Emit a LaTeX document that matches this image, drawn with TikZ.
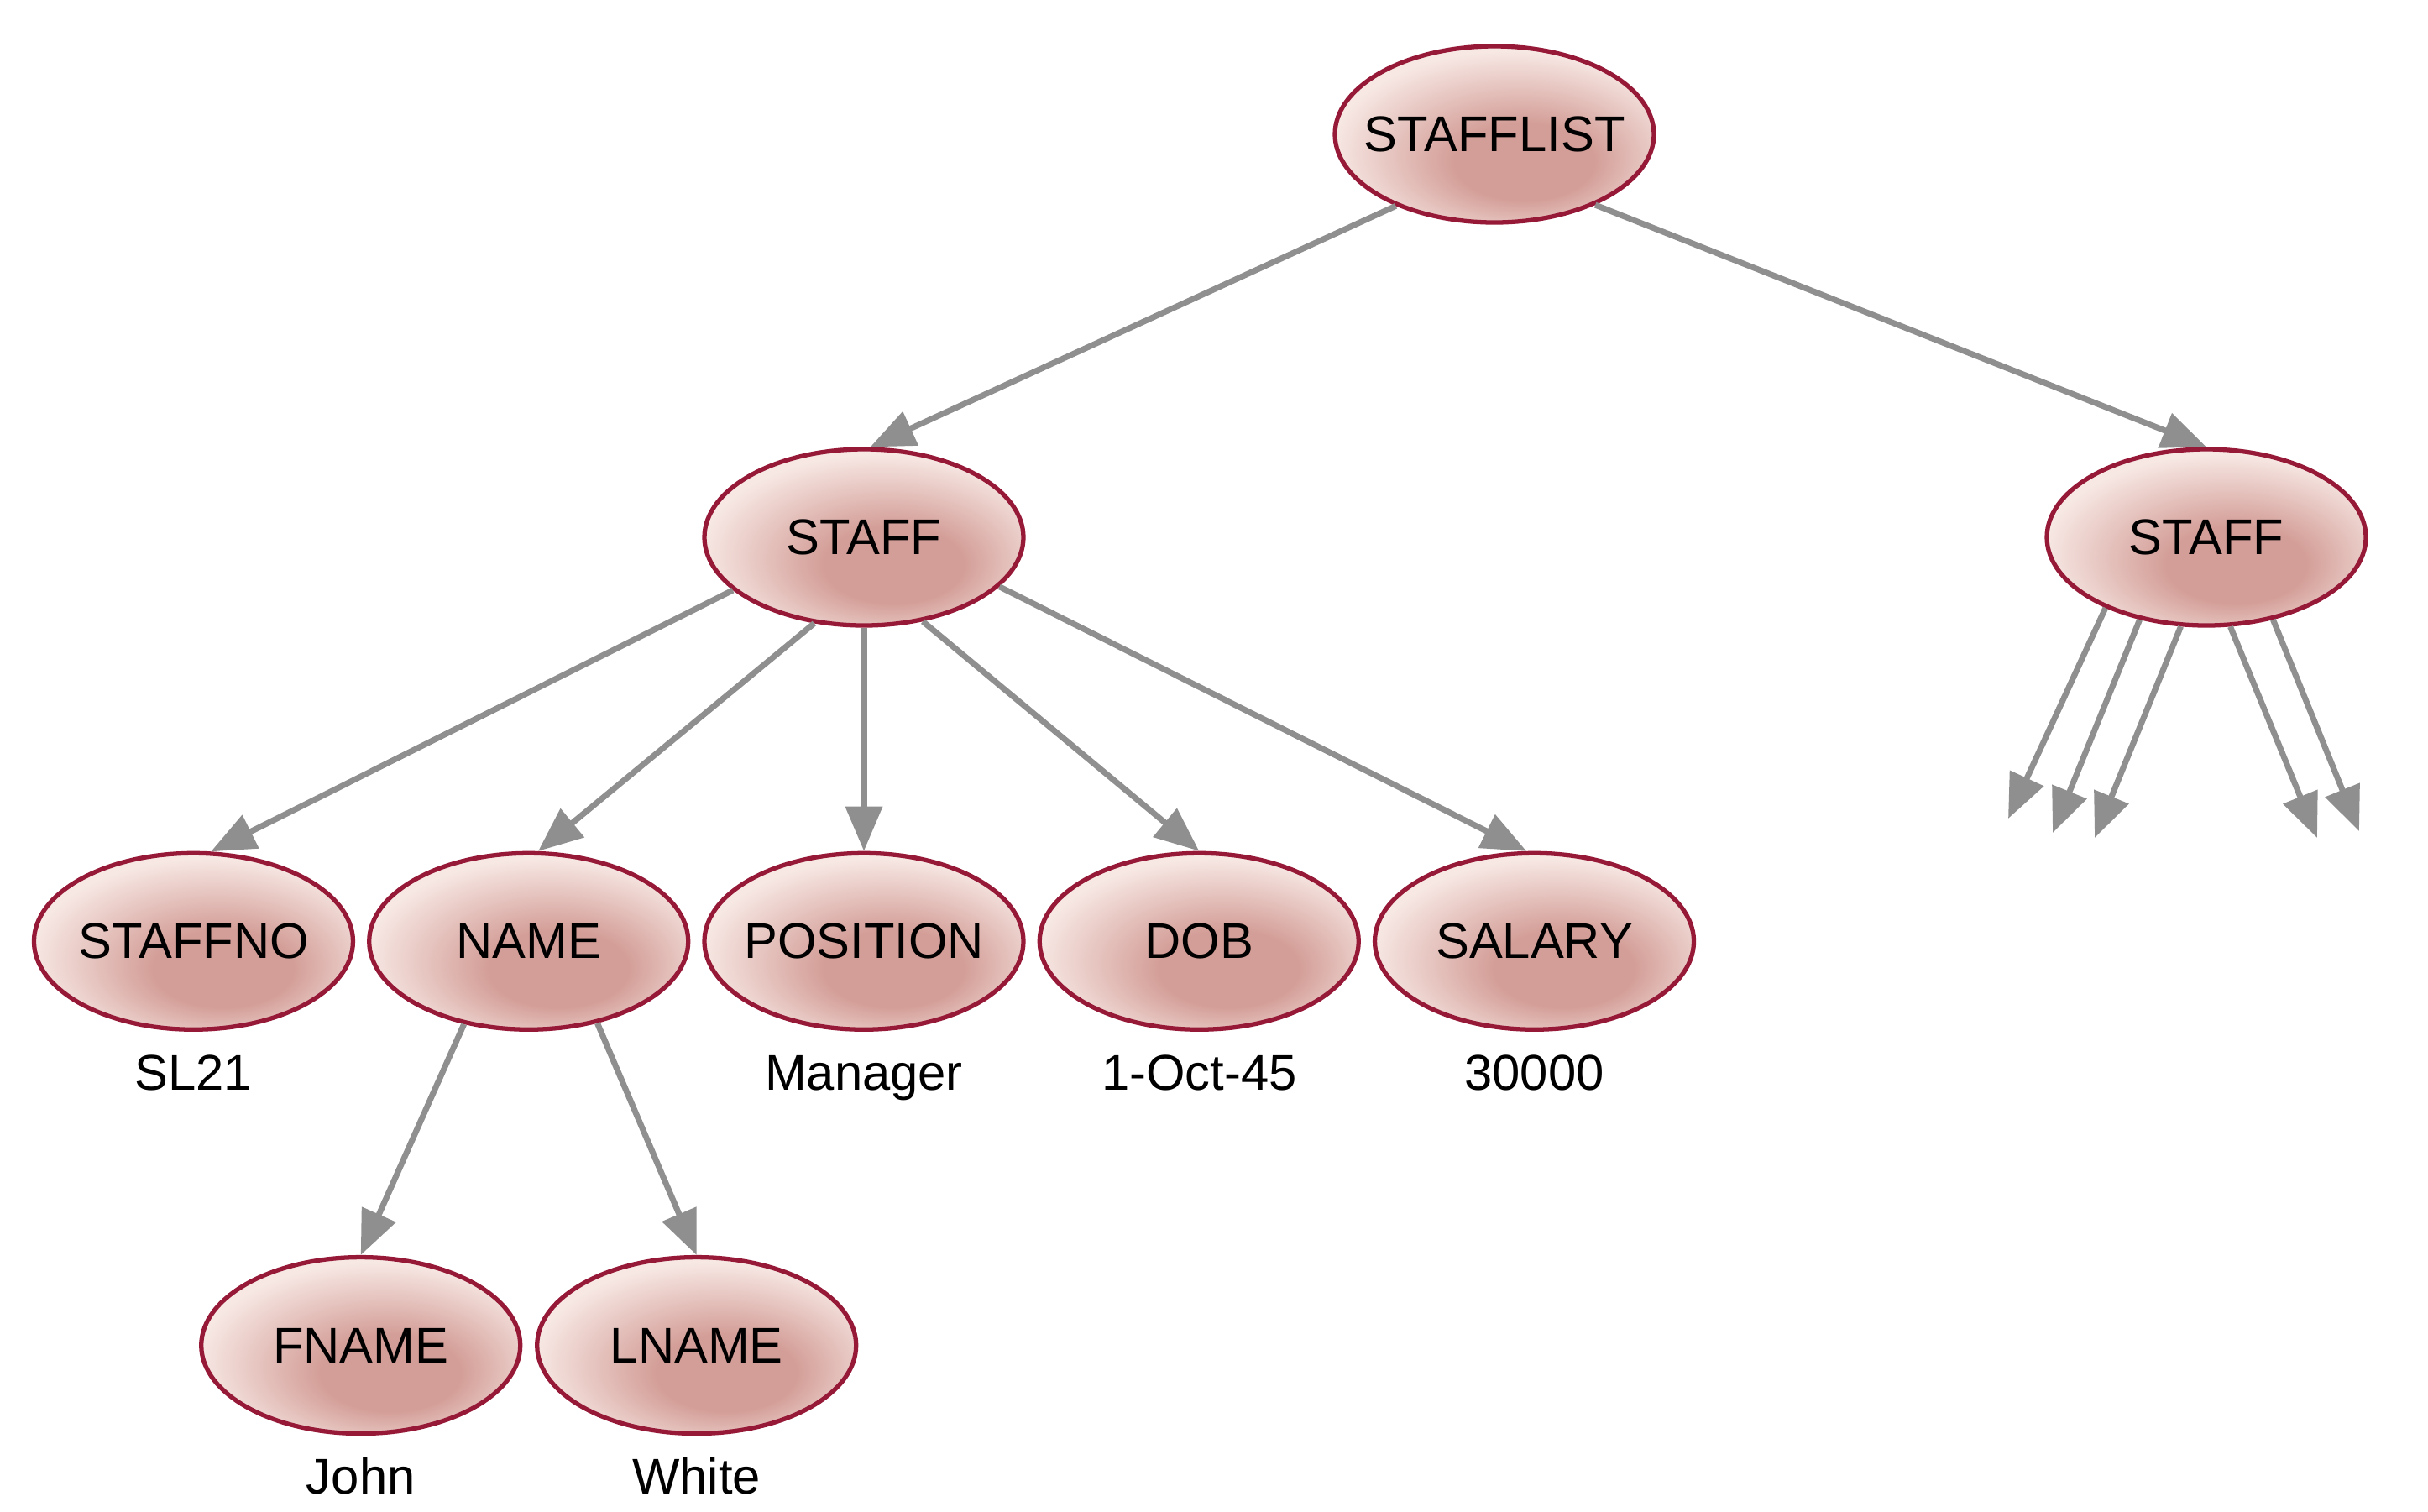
\documentclass[tikz,border=0pt]{standalone}
\usepackage{fontspec}
\setmainfont{Liberation Sans}
\usepackage{tikz}
\usetikzlibrary{
  arrows.meta,
  positioning,
  shapes.geometric
}
\usepackage{xcolor}

\definecolor{nodeRim}{RGB}{150,26,56}
\definecolor{nodeCore}{RGB}{212,158,152}
\definecolor{nodeEdge}{RGB}{247,232,228}
\definecolor{linkGray}{RGB}{143,143,143}

\pgfdeclareradialshading{nodeglow}{\pgfpoint{6bp}{-10bp}}{%
  color(0bp)=(nodeCore); color(11bp)=(nodeCore); color(28bp)=(nodeEdge); color(50bp)=(nodeEdge)}

\newcommand{\elname}[1]{\makebox[0pt]{#1}}

\begin{document}
\begin{tikzpicture}[
  entity/.style={ellipse, shading=nodeglow, draw=nodeRim, line width=1.5pt, minimum width=3.8cm, minimum height=2.1cm, inner sep=0pt, font=\fontsize{17pt}{20pt}\selectfont},
  value/.style={inner sep=0pt, text height=12.2pt, text depth=3.6pt, font=\fontsize{17pt}{20pt}\selectfont},
  link/.style={-{Triangle[length=0.53cm, width=0.43cm]}, line width=2pt, draw=linkGray},
]
\useasboundingbox (0,0) rectangle (28.92,-18);

% Nodes
\node[entity] (stafflist) at (17.80,-1.60) {\elname{STAFFLIST}};
\node[entity] (staffA) at (10.29,-6.40) {\elname{STAFF}};
\node[entity] (staffB) at (26.28,-6.40) {\elname{STAFF}};

\node[entity, below=2.66cm of staffA] (position) {\elname{POSITION}};
\node[entity, left=0.14cm of position] (name) {\elname{NAME}};
\node[entity, left=0.14cm of name] (staffno) {\elname{STAFFNO}};
\node[entity, right=0.14cm of position] (dob) {\elname{DOB}};
\node[entity, right=0.14cm of dob] (salary) {\elname{SALARY}};

\node[entity, below=2.66cm of name, xshift=-2cm] (fname) {\elname{FNAME}};
\node[entity, below=2.66cm of name, xshift=2cm] (lname) {\elname{LNAME}};

% Values
\node[value, below=0.26cm of staffno] (staffnoval) {SL21};
\node[value, below=0.26cm of position] (positionval) {Manager};
\node[value, below=0.26cm of dob] (dobval) {1-Oct-45};
\node[value, below=0.26cm of salary] (salaryval) {30000};
\node[value, below=0.26cm of fname] (fnameval) {John};
\node[value, below=0.26cm of lname] (lnameval) {White};

% Loose ends below the second STAFF
\coordinate (loose1) at (23.92,-9.75);
\coordinate (loose2) at (24.45,-9.92);
\coordinate (loose3) at (24.95,-9.98);
\coordinate (loose4) at (27.60,-9.98);
\coordinate (loose5) at (28.10,-9.90);

% Arrows
\draw[link] (stafflist.216) -- (staffA.86);
\draw[link] (stafflist.325) -- (staffB.north);

\draw[link] (staffA.202) -- (staffno.79);
\draw[link] (staffA.240) -- (name.84);
\draw[link] (staffA.south) -- (position.north);
\draw[link] (staffA.305) -- (dob.north);
\draw[link] (staffA.340) -- (salary.95);

\draw[link] (name.232) -- (fname.north);
\draw[link] (name.310) -- (lname.north);

\draw[link] (staffB.215) -- (loose1);
\draw[link] (staffB.231) -- (loose2);
\draw[link] (staffB.254) -- (loose3);
\draw[link] (staffB.285) -- (loose4);
\draw[link] (staffB.309) -- (loose5);
\end{tikzpicture}
\end{document}
